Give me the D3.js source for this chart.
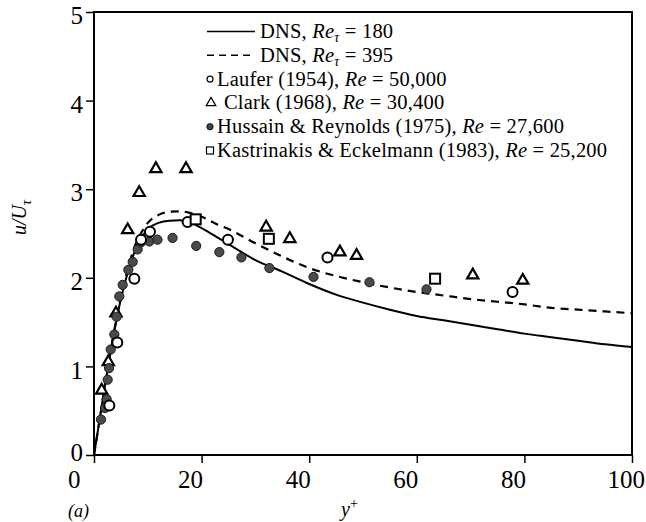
<!DOCTYPE html>
<html><head><meta charset="utf-8">
<script src="https://cdnjs.cloudflare.com/ajax/libs/d3/7.8.5/d3.min.js"></script>
<style>
html,body{margin:0;padding:0;background:#fff;}
svg{display:block;font-family:"Liberation Serif","Times New Roman",serif;}
</style></head>
<body><svg id="chart" width="646" height="522"></svg>
<script>
// ---- data ----
const xTicks = [0, 20, 40, 60, 80, 100];
const yTicks = [0, 1, 2, 3, 4, 5];
const dns180X = [0,1,2,3,4,5,6,7,8,9,10,12,14,16,18,20,22,25,30,35,40,45,50,55,60,65,70,75,80,85,90,95,100];
const dns180Y = [0,0.38,0.77,1.14,1.47,1.76,2.0,2.2,2.36,2.47,2.55,2.62,2.645,2.65,2.62,2.56,2.49,2.38,2.2,2.07,1.93,1.81,1.72,1.64,1.57,1.52,1.47,1.42,1.37,1.33,1.29,1.25,1.22];
const dns395X = [0,1,2,3,4,5,6,7,8,9,10,12,14,16,18,20,23,25,30,35,40,45,50,55,60,65,70,75,80,85,90,95,100];
const dns395Y = [0,0.38,0.77,1.14,1.48,1.78,2.03,2.25,2.42,2.53,2.62,2.71,2.745,2.75,2.73,2.69,2.6,2.55,2.39,2.24,2.11,2.02,1.95,1.89,1.84,1.8,1.76,1.73,1.7,1.66,1.64,1.62,1.6];
const lauferX = [2.85,4.33,7.5,8.74,10.4,17.4,24.9,43.4,77.8];
const lauferY = [0.56,1.27,1.99,2.43,2.52,2.63,2.43,2.23,1.84];
const clarkX = [1.43,2.66,4.09,6.26,8.4,11.5,17.1,32.0,36.4,45.7,48.8,70.4,79.7];
const clarkY = [0.73,1.05,1.60,2.54,2.96,3.23,3.23,2.57,2.44,2.29,2.25,2.03,1.97];
const hussainX = [1.3,2.04,2.35,2.54,2.79,3.1,3.78,4.2,4.7,5.33,6.38,7.19,8.12,8.74,10.3,11.8,14.6,19.0,23.3,27.4,32.6,40.8,51.2,61.8];
const hussainY = [0.40,0.53,0.63,0.85,0.98,1.19,1.36,1.56,1.79,1.92,2.09,2.18,2.32,2.40,2.41,2.43,2.45,2.36,2.29,2.23,2.11,2.01,1.95,1.87];
const kastX = [18.9,32.5,63.4];
const kastY = [2.66,2.44,1.99];

const zip = (a, b) => a.map((v, i) => [v, b[i]]);

const svg = d3.select("#chart");
const x = d3.scaleLinear().domain([0, 100]).range([94, 632]);
const y = d3.scaleLinear().domain([0, 5]).range([455, 12]);

// frame
svg.append("rect").attr("x", x(0)).attr("y", y(5)).attr("width", x(100) - x(0)).attr("height", y(0) - y(5))
  .attr("fill", "none").attr("stroke", "#000").attr("stroke-width", 2);

// axes
const xLabelShift = {0: -14, 100: 12.5};
const gx = svg.append("g").attr("transform", `translate(0,${y(0)})`)
  .call(d3.axisBottom(x).tickValues(xTicks).tickSize(8).tickPadding(7).tickFormat(d3.format("d")));
gx.select(".domain").remove();
gx.selectAll("line").attr("stroke-width", 1.5);
gx.selectAll("text").attr("font-size", 25).attr("font-family", "Liberation Serif").attr("fill", "#000")
  .attr("text-anchor", "end").attr("x", d => (xLabelShift[d] !== undefined ? xLabelShift[d] : 1));

const gy = svg.append("g").attr("transform", `translate(${x(0)},0)`)
  .call(d3.axisLeft(y).tickValues(yTicks).tickSize(8).tickPadding(3).tickFormat(d3.format("d")));
gy.select(".domain").remove();
gy.selectAll("line").attr("stroke-width", 1.5);
gy.selectAll("text").attr("font-size", 25).attr("font-family", "Liberation Serif").attr("fill", "#000")
  .attr("dy", d => (d === 0 ? "0.2em" : "0.47em"));

// axis titles
svg.append("text").attr("x", 68).attr("y", 517).attr("font-size", 18).attr("font-style", "italic").text("(a)");
const xt = svg.append("text").attr("x", 341).attr("y", 516).attr("font-size", 20).attr("font-style", "italic");
xt.append("tspan").text("y");
xt.append("tspan").attr("dy", -8).attr("font-size", 14).attr("font-style", "normal").text("+");
const yt = svg.append("text").attr("transform", "translate(26,235) rotate(-90)").attr("font-size", 20).attr("font-style", "italic");
yt.append("tspan").text("u/U");
yt.append("tspan").attr("dy", 5).attr("font-size", 14).text("τ");

// curves
const line = d3.line().x(d => x(d[0])).y(d => y(d[1])).curve(d3.curveMonotoneX);
svg.append("path").datum(zip(dns180X, dns180Y)).attr("d", line).attr("fill", "none").attr("stroke", "#000").attr("stroke-width", 2);
svg.append("path").datum(zip(dns395X, dns395Y)).attr("d", line).attr("fill", "none").attr("stroke", "#000").attr("stroke-width", 2.2).attr("stroke-dasharray", "8,6");

// markers
const tri = d3.symbol().type(d3.symbolTriangle).size(55);
svg.append("g").selectAll("path").data(zip(clarkX, clarkY)).join("path")
  .attr("d", tri).attr("transform", d => `translate(${x(d[0])},${y(d[1])})`)
  .attr("fill", "#fff").attr("stroke", "#000").attr("stroke-width", 2.2);
svg.append("g").selectAll("circle").data(zip(hussainX, hussainY)).join("circle")
  .attr("cx", d => x(d[0])).attr("cy", d => y(d[1])).attr("r", 4.6)
  .attr("fill", "#4a4a4a").attr("stroke", "#1a1a1a").attr("stroke-width", 1);
svg.append("g").selectAll("circle").data(zip(lauferX, lauferY)).join("circle")
  .attr("cx", d => x(d[0])).attr("cy", d => y(d[1])).attr("r", 5)
  .attr("fill", "#fff").attr("stroke", "#000").attr("stroke-width", 2);
svg.append("g").selectAll("rect").data(zip(kastX, kastY)).join("rect")
  .attr("x", d => x(d[0]) - 5).attr("y", d => y(d[1]) - 5).attr("width", 10).attr("height", 10)
  .attr("fill", "#fff").attr("stroke", "#000").attr("stroke-width", 2);

// legend
const legRows = [
  {kind: "solid", pre: "DNS, ", re: "Re", sub: "τ", post: " = 180"},
  {kind: "dash", pre: "DNS, ", re: "Re", sub: "τ", post: " = 395"},
  {kind: "circle", pre: "Laufer (1954), ", re: "Re", sub: "", post: " = 50,000"},
  {kind: "tri", pre: "Clark (1968), ", re: "Re", sub: "", post: " = 30,400"},
  {kind: "dot", pre: "Hussain & Reynolds (1975), ", re: "Re", sub: "", post: " = 27,600"},
  {kind: "square", pre: "Kastrinakis & Eckelmann (1983), ", re: "Re", sub: "", post: " = 25,200"}
];
const lg = svg.append("g").attr("font-size", 20.5).attr("letter-spacing", 0.2);
legRows.forEach((r, i) => {
  const by = 38 + i * 23.8, cy = by - 6.5;
  let tx = 217;
  if (r.kind === "solid" || r.kind === "dash") {
    lg.append("line").attr("x1", 207).attr("x2", 255).attr("y1", cy).attr("y2", cy).attr("stroke", "#000")
      .attr("stroke-width", 1.6).attr("stroke-dasharray", r.kind === "dash" ? "7,5" : null);
    tx = 260;
  } else if (r.kind === "circle") {
    lg.append("circle").attr("cx", 210).attr("cy", cy).attr("r", 3).attr("fill", "#fff").attr("stroke", "#000").attr("stroke-width", 1.2);
  } else if (r.kind === "dot") {
    lg.append("circle").attr("cx", 210).attr("cy", cy).attr("r", 3.2).attr("fill", "#444").attr("stroke", "#000").attr("stroke-width", 0.8);
  } else if (r.kind === "tri") {
    lg.append("path").attr("d", d3.symbol().type(d3.symbolTriangle).size(40)).attr("transform", `translate(211,${cy})`)
      .attr("fill", "#fff").attr("stroke", "#000").attr("stroke-width", 1.2);
    tx = 224;
  } else {
    lg.append("rect").attr("x", 206.5).attr("y", cy - 3.5).attr("width", 7).attr("height", 7).attr("fill", "#fff").attr("stroke", "#000").attr("stroke-width", 1.2);
  }
  const t = lg.append("text").attr("x", tx).attr("y", by);
  t.append("tspan").text(r.pre);
  t.append("tspan").attr("font-style", "italic").text(r.re);
  if (r.sub) {
    t.append("tspan").attr("font-style", "italic").attr("font-size", 14).attr("dy", 4).text(r.sub);
    t.append("tspan").attr("dy", -4).text(r.post);
  } else {
    t.append("tspan").text(r.post);
  }
});
</script></body></html>
